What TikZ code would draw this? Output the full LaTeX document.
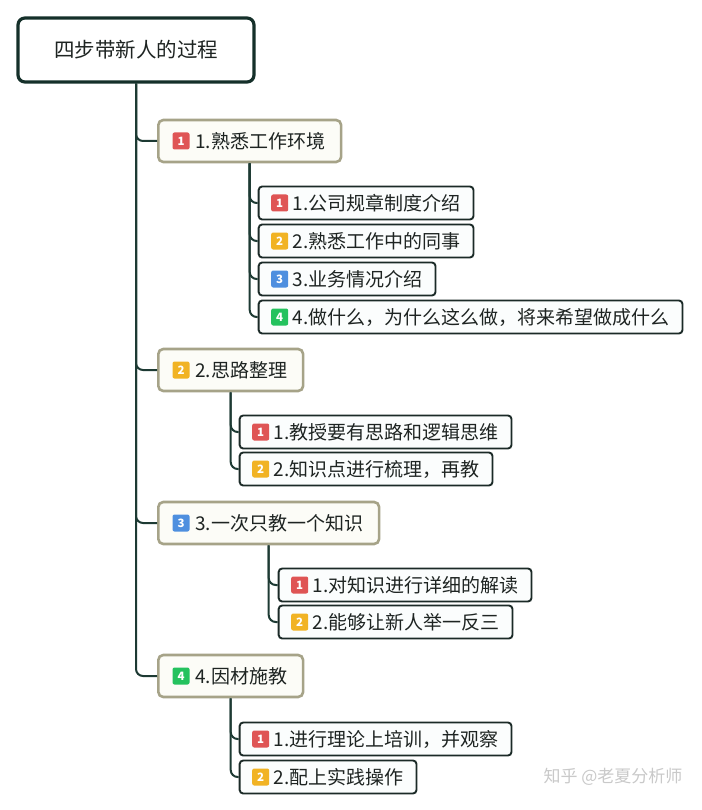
\documentclass[tikz,border=0pt]{standalone}
\usepackage{fontspec}
\usepackage{xcolor}
\usepackage{tikz}
\usetikzlibrary{
  calc,
  positioning
}
\newfontfamily\cjk{Noto Sans CJK SC}
\definecolor{ink}{HTML}{1E2422}
\definecolor{rootink}{HTML}{15302A}
\definecolor{branchink}{HTML}{1D3A33}
\definecolor{topicline}{HTML}{A6A388}
\definecolor{topicfill}{HTML}{FCFCF7}
\definecolor{itemline}{HTML}{1B2A27}
\definecolor{itemfill}{HTML}{FBFDFD}
\definecolor{bred}{HTML}{DF5555}
\definecolor{borange}{HTML}{F1B324}
\definecolor{bblue}{HTML}{4E8FDF}
\definecolor{bgreen}{HTML}{24C25E}
\definecolor{markgray}{HTML}{C9C9C9}
\tikzset{
  every node/.style={font=\cjk\fontsize{19}{22}\selectfont, text=ink},
  rootbox/.style={
    draw=rootink,
    fill=white,
    line width=3.2pt,
    rounded corners=7pt,
    minimum width=236pt,
    minimum height=64pt,
    font=\cjk\fontsize{20.5}{24}\selectfont
  },
  topicbox/.style={
    anchor=west,
    draw=topicline,
    fill=topicfill,
    line width=2.6pt,
    rounded corners=5pt,
    minimum height=42pt,
    inner xsep=16pt
  },
  itembox/.style={
    anchor=west,
    draw=itemline,
    fill=itemfill,
    line width=1.9pt,
    rounded corners=3.5pt,
    minimum height=33pt,
    inner xsep=13pt
  },
  badge/.style={
    fill=#1,
    rounded corners=2pt,
    minimum size=17pt,
    inner sep=0pt,
    text=white,
    font=\cjk\bfseries\fontsize{11.5}{12}\selectfont
  },
  branch/.style={draw=branchink, line width=2pt, rounded corners=7pt},
}

\begin{document}
\begin{tikzpicture}[x=1pt, y=-1pt]

  \fill[white] (0,0) rectangle (701,810);
  \useasboundingbox (0,0) rectangle (701,810);

  % =====================================================================
  % ROOT
  % =====================================================================
  \node[rootbox] (root) at (136,50) {四步带新人的过程};

  % =====================================================================
  % TOPIC 1
  % =====================================================================
  \node[topicbox] (t1) at (157,141) {\hspace*{21pt}1.熟悉工作环境};
  \node[badge=bred] (t1b) at ([xshift=24pt]t1.west) {1};
  \draw[branch] (root.south) |- (t1.west);

  \node[itembox] (t1a) at ([xshift=8pt]t1.south |- 0,203) {\hspace*{21pt}1.公司规章制度介绍};
  \node[itembox] (t1c) at ([xshift=8pt]t1.south |- 0,241) {\hspace*{21pt}2.熟悉工作中的同事};
  \node[itembox] (t1e) at ([xshift=8pt]t1.south |- 0,279) {\hspace*{21pt}3.业务情况介绍};
  \node[itembox] (t1g) at ([xshift=8pt]t1.south |- 0,317) {\hspace*{21pt}4.做什么，为什么这么做，将来希望做成什么};
  \node[badge=bred] (t1ab) at ([xshift=22pt]t1a.west) {1};
  \node[badge=borange] (t1cb) at ([xshift=22pt]t1c.west) {2};
  \node[badge=bblue] (t1eb) at ([xshift=22pt]t1e.west) {3};
  \node[badge=bgreen] (t1gb) at ([xshift=22pt]t1g.west) {4};
  \draw[branch] (t1.south) |- (t1a.west);
  \draw[branch] (t1.south) |- (t1c.west);
  \draw[branch] (t1.south) |- (t1e.west);
  \draw[branch] (t1.south) |- (t1g.west);

  % =====================================================================
  % TOPIC 2
  % =====================================================================
  \node[topicbox] (t2) at (157,370) {\hspace*{21pt}2.思路整理};
  \node[badge=borange] (t2b) at ([xshift=24pt]t2.west) {2};
  \draw[branch] (root.south) |- (t2.west);

  \node[itembox] (t2a) at ([xshift=8pt]t2.south |- 0,432) {\hspace*{21pt}1.教授要有思路和逻辑思维};
  \node[itembox] (t2c) at ([xshift=8pt]t2.south |- 0,469) {\hspace*{21pt}2.知识点进行梳理，再教};
  \node[badge=bred] (t2ab) at ([xshift=22pt]t2a.west) {1};
  \node[badge=borange] (t2cb) at ([xshift=22pt]t2c.west) {2};
  \draw[branch] (t2.south) |- (t2a.west);
  \draw[branch] (t2.south) |- (t2c.west);

  % =====================================================================
  % TOPIC 3
  % =====================================================================
  \node[topicbox] (t3) at (157,523) {\hspace*{21pt}3.一次只教一个知识};
  \node[badge=bblue] (t3b) at ([xshift=24pt]t3.west) {3};
  \draw[branch] (root.south) |- (t3.west);

  \node[itembox] (t3a) at ([xshift=9pt]t3.south |- 0,585) {\hspace*{21pt}1.对知识进行详细的解读};
  \node[itembox] (t3c) at ([xshift=9pt]t3.south |- 0,622) {\hspace*{21pt}2.能够让新人举一反三};
  \node[badge=bred] (t3ab) at ([xshift=22pt]t3a.west) {1};
  \node[badge=borange] (t3cb) at ([xshift=22pt]t3c.west) {2};
  \draw[branch] (t3.south) |- (t3a.west);
  \draw[branch] (t3.south) |- (t3c.west);

  % =====================================================================
  % TOPIC 4
  % =====================================================================
  \node[topicbox] (t4) at (157,676) {\hspace*{21pt}4.因材施教};
  \node[badge=bgreen] (t4b) at ([xshift=24pt]t4.west) {4};
  \draw[branch] (root.south) |- (t4.west);

  \node[itembox] (t4a) at ([xshift=8pt]t4.south |- 0,739) {\hspace*{21pt}1.进行理论上培训，并观察};
  \node[itembox] (t4c) at ([xshift=8pt]t4.south |- 0,777) {\hspace*{21pt}2.配上实践操作};
  \node[badge=bred] (t4ab) at ([xshift=22pt]t4a.west) {1};
  \node[badge=borange] (t4cb) at ([xshift=22pt]t4c.west) {2};
  \draw[branch] (t4.south) |- (t4a.west);
  \draw[branch] (t4.south) |- (t4c.west);

  % watermark text, bottom right
  \node[anchor=east, text=markgray, font=\cjk\fontsize{17}{20}\selectfont]
    (zhihu) at (686,777) {知乎 @老夏分析师};

\end{tikzpicture}
\end{document}
